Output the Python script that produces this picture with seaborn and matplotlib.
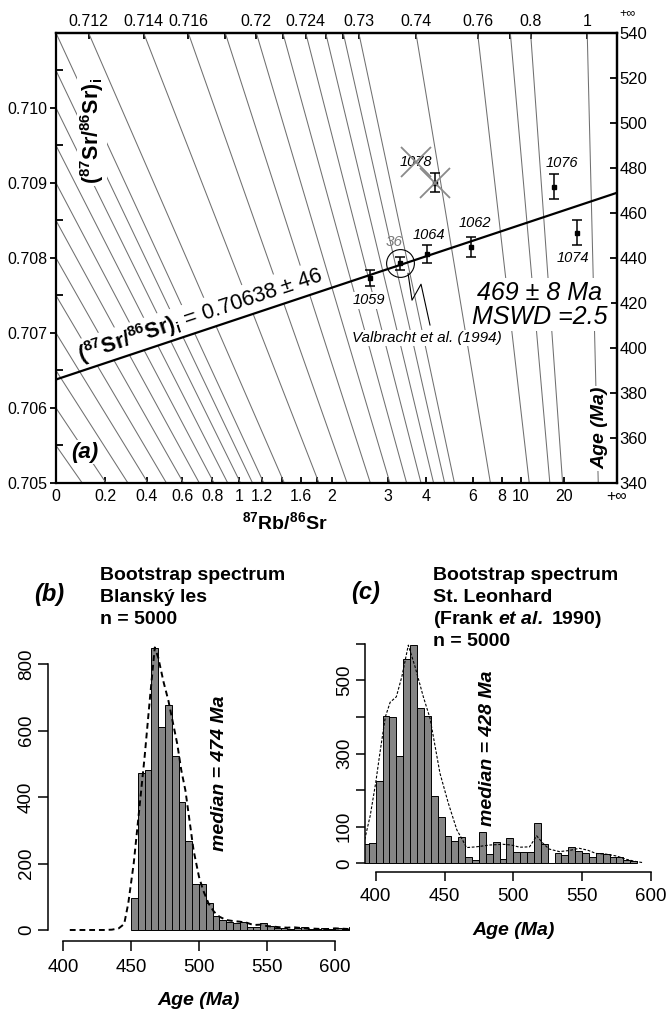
import math
import matplotlib
matplotlib.use("Agg")
import matplotlib.pyplot as plt
from matplotlib.ticker import FixedLocator, MultipleLocator
from matplotlib.transforms import ScaledTranslation
import seaborn as sns

# ---------------------------------------------------------------- data
# nomogram scales
sr_axis = (0.705, 0.711)      # left axis: (87Sr/86Sr)i
age_axis = (340, 540)         # right axis: age in Ma
rb_mid = 2.07                 # 87Rb/86Sr at the middle of the bottom scale

# whole-rock samples: 87Rb/86Sr, measured 87Sr/86Sr and its 2-sigma
samples = ["1059", "36", "1064", "1062", "1076", "1074", "1078"]
rb_sr = [2.632, 3.282, 4.042, 5.885, 16.36, 26.96, 4.311]
sr_meas = [0.72418, 0.72875, 0.73393, 0.74611, 0.82081, 0.88462, 0.73859]
sr_err = [0.00023, 0.00022, 0.00035, 0.00051, 0.00148, 0.00234, 0.00039]
rejected = ["1078"]
literature = ["36"]

# isochron
sr_initial = 0.70638
iso_age = 469

# contours of constant measured 87Sr/86Sr
contour_low = [0.7055, 0.706, 0.7065, 0.707, 0.7075, 0.708, 0.7085,
               0.709, 0.7095, 0.710, 0.7105, 0.711]
contour_top = [0.712, 0.714, 0.716, 0.718, 0.72, 0.722, 0.724, 0.726,
               0.728, 0.73, 0.74, 0.76, 0.78, 0.8, 1.0]
top_labels = ["0.712", "0.714", "0.716", "", "0.72", "", "0.724", "", "",
              "0.73", "0.74", "0.76", "", "0.8", "1"]

# bottom scale
rb_ticks = [0, 0.2, 0.4, 0.6, 0.8, 1, 1.2, 1.4, 1.6, 1.8, 2, 3, 4, 6, 8, 10, 20]
rb_labels = ["0", "0.2", "0.4", "0.6", "0.8", "1", "1.2", "", "1.6", "", "2",
             "3", "4", "6", "8", "10", "20"]
age_ticks = list(range(340, 541, 20))
sr_ticks = [0.705, 0.706, 0.707, 0.708, 0.709, 0.710]

# bootstrap spectrum, Blanský les (5-Ma bins from 450 Ma)
bins_b_start = 450
counts_b = [95, 473, 481, 847, 611, 677, 523, 386, 269, 137, 137, 80, 42, 30,
            25, 20, 25, 10, 8, 20, 12, 6, 5, 4, 6, 8, 4, 3, 5, 4, 5, 3, 8]
dens_b_age = [405, 430, 436, 441, 445, 448, 452, 455, 460, 464, 467.5, 470,
              474, 477.5, 481, 484, 487, 490, 493, 496, 500, 503, 507, 511,
              515, 520, 525, 530, 535, 540, 545, 550, 555, 560, 565, 570,
              575, 580, 585, 590, 595, 600, 605, 610]
dens_b_cnt = [0, 0, 1, 5, 18, 80, 200, 320, 520, 700, 850, 820, 745, 690,
              620, 560, 480, 420, 330, 240, 160, 120, 80, 55, 40, 30, 27, 25,
              22, 15, 16, 12, 10, 8, 7, 8, 6, 4, 4, 3, 3, 5, 4, 3]

# bootstrap spectrum, St. Leonhard (5-Ma bins from 390 Ma)
bins_c_start = 390
counts_c = [52, 55, 226, 402, 399, 293, 557, 596, 423, 402, 185, 126, 75, 61,
            73, 18, 9, 86, 25, 59, 11, 68, 30, 30, 32, 111, 52, 0, 27, 22,
            44, 33, 27, 18, 27, 25, 18, 16, 9, 6]
dens_c_age = [392, 396, 400, 403, 407, 410.5, 415, 419, 423.7, 428.6, 434.6,
              439.5, 446.7, 452.8, 459, 462.5, 466, 473, 483, 492.5, 498.5,
              504.6, 511.8, 517, 521.5, 526, 533.5, 540.7, 548, 554, 560,
              567.5, 575, 582, 589, 594]
dens_c_cnt = [65, 130, 220, 300, 400, 440, 455, 510, 596, 537, 455, 396, 246,
              164, 91, 68, 43, 45, 50, 52, 50, 44, 45, 75, 55, 39, 32, 35, 41,
              36, 27, 25, 20, 11, 5, 2]

# ---------------------------------------------------------------- style
sns.set_theme(style="ticks")
plt.rcParams["font.family"] = ["Liberation Sans", "DejaVu Sans"]
plt.rcParams["mathtext.fontset"] = "custom"
plt.rcParams["mathtext.rm"] = "Liberation Sans"
plt.rcParams["mathtext.it"] = "Liberation Sans:italic"
plt.rcParams["mathtext.bf"] = "Liberation Sans:bold"
plt.rcParams["mathtext.bfit"] = "Liberation Sans:italic:bold"
for key in ("axes.edgecolor", "axes.labelcolor", "xtick.color", "ytick.color",
            "text.color", "xtick.labelcolor", "ytick.labelcolor"):
    plt.rcParams[key] = "black"

W, H = 671, 1021
fig = plt.figure(figsize=(W / 100, H / 100), dpi=100)


def frac_box(x0, y0, x1, y1):
    """pixel box (left, top, right, bottom) -> figure fraction rect"""
    return [x0 / W, 1 - y1 / H, (x1 - x0) / W, (y1 - y0) / H]


# ---------------------------------------------------------------- nomogram
def sr_of_age(t):
    return sr_axis[0] + (t - age_axis[0]) * (sr_axis[1] - sr_axis[0]) / (age_axis[1] - age_axis[0])


sr_zero = sr_of_age(0)


def u_of_rb(x):
    return x / (x + rb_mid)


def plot_y(x, srm):
    u = u_of_rb(x)
    return srm + u * (sr_zero - srm)


ax = fig.add_axes(frac_box(56, 33, 617, 483))
ax.set_xlim(0, 1)
ax.set_ylim(*sr_axis)

grey = "#707070"
for srm in contour_low + contour_top:
    ax.plot([0, 1], [srm, sr_zero], color=grey, lw=0.75, zorder=1)

# isochron
ax.plot([0, 1], [sr_initial, sr_of_age(iso_age)], color="black", lw=1.6, zorder=5)

txt_box = dict(facecolor="white", edgecolor="none", pad=1.0)
label_offsets = {"1059": (-1, -16), "1064": (1, 14), "1062": (3, 17),
                 "1076": (6, 17), "1074": (-3, -18), "1078": (-14, 15),
                 "36": (-4, 15)}
for name, x, srm, e in zip(samples, rb_sr, sr_meas, sr_err):
    u = u_of_rb(x)
    y = plot_y(x, srm)
    ax.errorbar(u, y, yerr=e * (1 - u), fmt="s", ms=2.5, color="black",
                capsize=3.5, elinewidth=1.1, capthick=1.1, zorder=6)
    dx, dy = label_offsets[name]
    if name in literature:
        ax.plot(u, y, marker="o", ms=20, mfc="none", mec="black", mew=0.8, zorder=6)
        ax.annotate(name, (u, y), xytext=(dx, dy), textcoords="offset points",
                    ha="center", va="center", fontsize=11, style="italic",
                    color="#7a7a7a", zorder=4)
        continue
    ax.annotate(name, (u, y), xytext=(dx, dy), textcoords="offset points",
                ha="center", va="center", fontsize=10.5, style="italic",
                zorder=4, bbox=txt_box)
    if name in rejected:
        # cross out both the analysis and its label
        ax.plot(u, y, marker="x", ms=21, mew=1.3, color="#8a8a8a", zorder=7)
        shift = ScaledTranslation(dx / 72, dy / 72, fig.dpi_scale_trans)
        ax.plot(u, y, marker="x", ms=21, mew=1.3, color="#8a8a8a", zorder=7,
                transform=ax.transData + shift)

# zig-zag leader from the circled sample to its citation (pixel offsets)
i36 = samples.index("36")
u36 = u_of_rb(rb_sr[i36])
y36 = plot_y(rb_sr[i36], sr_meas[i36])
zig_dx = [8, 12, 21, 30]
zig_dy = [10, 37, 21, 62]
ax.plot([u36 + d / 561 for d in zig_dx],
        [y36 - d / 75000 for d in zig_dy],
        color="black", lw=0.8, zorder=6)

ax.text(0.6613, 0.706933, "Valbracht et al. (1994)", ha="center", va="center",
        fontsize=11, style="italic", zorder=4, bbox=txt_box)
big_box = dict(facecolor="white", edgecolor="none", pad=2)
ax.text(0.861, 0.70753, "469 ± 8 Ma", ha="center", va="center",
        fontsize=18, style="italic", zorder=4, bbox=big_box)
ax.text(0.863, 0.70722, "MSWD =2.5", ha="center", va="center",
        fontsize=18, style="italic", zorder=4, bbox=big_box)

# isochron label, rotated along the line
p0 = ax.transData.transform((0, sr_initial))
p1 = ax.transData.transform((1, sr_of_age(iso_age)))
ang = math.degrees(math.atan2(p1[1] - p0[1], p1[0] - p0[0]))
ax.text(0.2567, 0.70724, r"$\mathbf{(^{87}Sr/^{86}Sr)_i}$ = 0.70638 ± 46",
        rotation=ang, rotation_mode="anchor", ha="center", va="center",
        fontsize=15.5, zorder=4, bbox=txt_box)

ax.text(0.0642, 0.70969, r"$\mathbf{(^{87}Sr/^{86}Sr)_i}$", rotation=90,
        ha="center", va="center", fontsize=15.5, zorder=4, bbox=txt_box)
ax.text(0.052, 0.70541, "(a)", ha="center", va="center", fontsize=16,
        weight="bold", style="italic", zorder=4, bbox=txt_box)
ax.text(0.9697, 0.70573, "Age (Ma)", rotation=90, ha="center", va="center",
        fontsize=14, weight="bold", style="italic", zorder=4, bbox=txt_box)

# frame and scales
for s in ax.spines.values():
    s.set_linewidth(1.6)
    s.set_zorder(8)

ax.xaxis.set_major_locator(FixedLocator([u_of_rb(x) for x in rb_ticks] + [1.0]))
ax.set_xticklabels(rb_labels + ["+\u221e"])
ax.get_xticklabels()[-1].set_fontsize(9)
ax.tick_params(axis="x", which="major", direction="in", length=4.5, width=1.3,
               labelsize=11.5, pad=4, top=False, bottom=True)
ax.set_yticks(sr_ticks)
ax.set_yticklabels([f"{v:.3f}" for v in sr_ticks])
ax.yaxis.set_minor_locator(MultipleLocator(0.0005))
ax.tick_params(axis="y", which="major", direction="out", length=4.5, width=1.3,
               labelsize=11.5, pad=1.5, right=False, left=True)
ax.tick_params(axis="y", which="minor", direction="in", length=5, width=1.3,
               right=False, left=True)
ax.set_xlabel(r"$\mathbf{^{87}Rb/^{86}Sr}$", fontsize=14)
ax.xaxis.set_label_coords((285 - 56) / 561, -0.062)

top = ax.secondary_xaxis("top")
top.set_xticks([(s - sr_axis[1]) / (s - sr_zero) for s in contour_top])
top.set_xticklabels(top_labels)
top.tick_params(direction="in", length=4.5, width=1.3, labelsize=11.5, pad=3)
top.spines["top"].set_linewidth(1.6)

right = ax.secondary_yaxis("right")
right.set_yticks([sr_of_age(t) for t in age_ticks])
right.set_yticklabels([str(t) for t in age_ticks])
right.tick_params(direction="in", length=5, width=1.3, labelsize=12, pad=2)
right.spines["right"].set_linewidth(1.6)

ax.text(1.018, 1.042, "+\u221e", transform=ax.transAxes, ha="center",
        va="center", fontsize=9)


# ---------------------------------------------------------------- spectra
def spectrum(rect, start, counts, d_age, d_cnt, xlim, ylim, yticks, ylabels,
             dens_style, tick_len):
    a = fig.add_axes(rect)
    edges = [start + 5 * i for i in range(len(counts) + 1)]
    centers = [e + 2.5 for e in edges[:-1]]
    sns.histplot(x=centers, weights=counts, bins=edges, ax=a, color="#858585",
                 edgecolor="black", linewidth=0.7, alpha=1.0)
    sns.lineplot(x=d_age, y=d_cnt, ax=a, color="black", sort=False, **dens_style)
    a.set_xlim(*xlim)
    a.set_ylim(*ylim)
    for side in ("top", "right"):
        a.spines[side].set_visible(False)
    a.spines["left"].set_bounds(yticks[0], yticks[-1])
    a.spines["bottom"].set_bounds(400, 600)
    for side in ("left", "bottom"):
        a.spines[side].set_linewidth(1.1)
    a.set_xticks([400, 450, 500, 550, 600])
    a.set_yticks(yticks)
    a.set_yticklabels(ylabels, rotation=90, va="center")
    a.tick_params(axis="both", direction="out", length=tick_len, width=1.1,
                  labelsize=13.5)
    a.tick_params(axis="x", pad=5)
    a.tick_params(axis="y", pad=2)
    a.set_ylabel("")
    a.set_xlabel("Age (Ma)", fontsize=14, weight="bold", style="italic",
                 labelpad=12)
    return a


axb = spectrum(frac_box(48, 636.1, 350, 941.3), bins_b_start, counts_b,
               dens_b_age, dens_b_cnt, (389, 611), (-34, 884),
               [0, 200, 400, 600, 800], ["0", "200", "400", "600", "800"],
               dict(lw=1.4, linestyle=(0, (3, 2))), 7.5)
axc = spectrum(frac_box(364.7, 634.9, 661.9, 872.1), bins_c_start, counts_c,
               dens_c_age, dens_c_cnt, (392, 608), (-24, 624),
               [0, 100, 200, 300, 400, 500, 600],
               ["0", "100", "", "300", "", "500", ""],
               dict(lw=0.8, linestyle=(0, (2.5, 1.5))), 6.5)


# titles and medians
def ftxt(px, py, s, **kw):
    fig.text(px / W, 1 - py / H, s, **kw)


ftxt(49, 594, "(b)", fontsize=17, weight="bold", style="italic", ha="center", va="center")
for py, line in zip([575, 597, 620], ["Bootstrap spectrum", "Blanský les", "n = 5000"]):
    ftxt(100, py, line, fontsize=14, weight="bold", ha="left", va="center")
ftxt(219, 773, "median = 474 Ma", rotation=90, fontsize=14, weight="bold",
     style="italic", ha="center", va="center")

ftxt(366, 592, "(c)", fontsize=17, weight="bold", style="italic", ha="center", va="center")
for py, line in zip([575, 597, 620, 642],
                    ["Bootstrap spectrum", "St. Leonhard",
                     r"(Frank $\mathbfit{et\ al.}$ 1990)", "n = 5000"]):
    ftxt(433, py, line, fontsize=14, weight="bold", ha="left", va="center")
ftxt(487, 748, "median = 428 Ma", rotation=90, fontsize=14, weight="bold",
     style="italic", ha="center", va="center")

fig.savefig("out.png", dpi=100)
